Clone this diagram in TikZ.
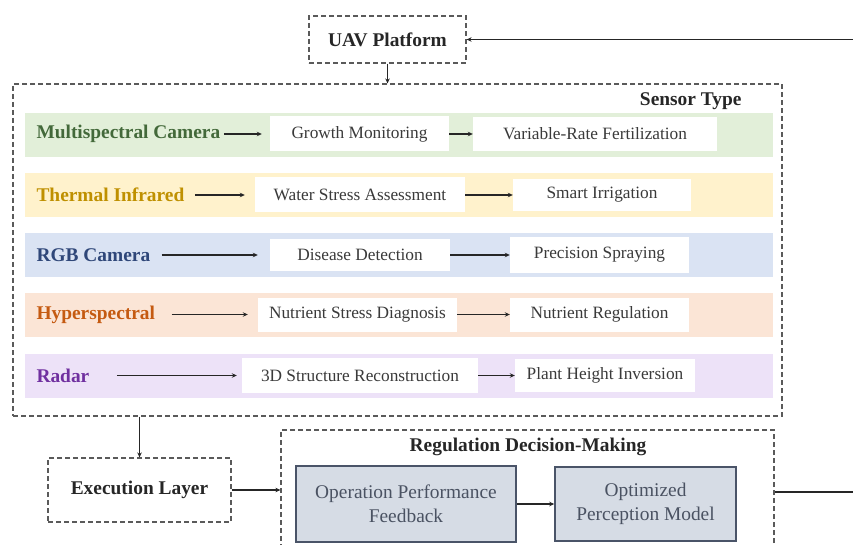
\documentclass[tikz,border=0pt]{standalone}
\usepackage{fontspec}
\setmainfont{Liberation Serif}
\usepackage{xcolor}
\usetikzlibrary{arrows.meta, positioning}
\definecolor{msfill}{HTML}{E2EFD9}
\definecolor{msink}{HTML}{43693A}
\definecolor{thfill}{HTML}{FFF2CC}
\definecolor{think}{HTML}{BF9000}
\definecolor{rgbfill}{HTML}{DAE3F3}
\definecolor{rgbink}{HTML}{2F4779}
\definecolor{hyfill}{HTML}{FBE5D6}
\definecolor{hyink}{HTML}{C55A11}
\definecolor{rafill}{HTML}{EDE2F8}
\definecolor{raink}{HTML}{7030A0}
\definecolor{framegray}{HTML}{5A5A5A}
\definecolor{taskink}{HTML}{3A3A3A}
\definecolor{stagefill}{HTML}{D6DCE5}
\definecolor{stageline}{HTML}{4A5468}
\definecolor{stageink}{HTML}{4A5262}
\tikzset{
    frame/.style = {rectangle, draw=framegray, dash pattern=on 5pt off 3pt, line width=1.2pt, inner sep=0pt},
    title/.style = {font=\fontsize{19.4}{22}\selectfont\bfseries, text=black!85},
    lane/.style = {rectangle, inner sep=0pt, minimum width=748pt, minimum height=44pt},
    sensor/.style = {anchor=west, font=\fontsize{19.4}{22}\selectfont\bfseries},
    task/.style = {rectangle, fill=white, inner sep=0pt, text=taskink, font=\fontsize{17.3}{20}\selectfont},
    stage/.style = {rectangle, draw=stageline, fill=stagefill, line width=1.5pt, inner sep=0pt, align=center,
        text=stageink, font=\fontsize{19.4}{24}\selectfont},
    link/.style = {draw=black!85, line width=1.1pt, -{Stealth[length=5pt, width=4.5pt]}},
}

\begin{document}
\begin{tikzpicture}[x=1pt, y=-1pt]
	\useasboundingbox (0, 0) rectangle (853, 545);

	\node[frame, title, minimum width=157pt, minimum height=47pt] (uav) at (387.5, 39.5) {UAV Platform};
	\node[frame, minimum width=769pt, minimum height=332pt] (sensors) at (397.5, 250) {};
	\node[title, anchor=east] (sensorType) at (745, 101) {Sensor Type};

	\node[lane, fill=msfill] (msLane) at (399, 135) {};
	\node[lane, fill=thfill] (thLane) at (399, 195) {};
	\node[lane, fill=rgbfill] (rgbLane) at (399, 255) {};
	\node[lane, fill=hyfill] (hyLane) at (399, 314.5) {};
	\node[lane, fill=rafill] (raLane) at (399, 375.5) {};

	\node[sensor, text=msink] (ms) at (33, 134) {Multispectral Camera};
	\node[sensor, text=think] (th) at (33, 195) {Thermal Infrared};
	\node[sensor, text=rgbink] (rgb) at (33, 255) {RGB Camera};
	\node[sensor, text=hyink] (hy) at (33, 314.5) {Hyperspectral};
	\node[sensor, text=raink] (ra) at (33, 375.5) {Radar};

	\node[task, minimum width=179pt, minimum height=35pt] (growth) at (359.5, 134) {Growth Monitoring};
	\node[task, minimum width=244pt, minimum height=34pt] (fertilization) at (595, 134) {Variable-Rate Fertilization};
	\node[task, minimum width=210pt, minimum height=35pt] (water) at (360, 195) {Water Stress Assessment};
	\node[task, minimum width=178pt, minimum height=32pt] (irrigation) at (602, 195) {Smart Irrigation};
	\node[task, minimum width=180pt, minimum height=32pt] (disease) at (360, 255) {Disease Detection};
	\node[task, minimum width=179pt, minimum height=36pt] (spraying) at (599.5, 255) {Precision Spraying};
	\node[task, minimum width=199pt, minimum height=34pt] (nutrient) at (357.5, 314.5) {Nutrient Stress Diagnosis};
	\node[task, minimum width=179pt, minimum height=34pt] (regulation) at (599.5, 314.5) {Nutrient Regulation};
	\node[task, minimum width=236pt, minimum height=35pt] (structure) at (360, 375.5) {3D Structure Reconstruction};
	\node[task, minimum width=180pt, minimum height=33pt] (height) at (605, 375.5) {Plant Height Inversion};

	\draw[link, shorten >=8pt] (ms) -- (growth);
	\draw[link] (growth) -- (fertilization);
	\draw[link, shorten <=7pt, shorten >=10pt] (th) -- (water);
	\draw[link] (water) -- (irrigation);
	\draw[link, shorten <=8pt, shorten >=12pt] (rgb) -- (disease);
	\draw[link] (disease) -- (spraying);
	\draw[link, shorten <=13pt, shorten >=10pt] (hy) -- (nutrient);
	\draw[link] (nutrient) -- (regulation);
	\draw[link, shorten <=24pt, shorten >=5pt] (ra) -- (structure);
	\draw[link] (structure) -- (height);

	\node[frame, title, minimum width=183pt, minimum height=64pt] (exec) at (139.5, 490) {Execution Layer};
	\node[frame, minimum width=493pt, minimum height=124pt] (decision) at (527.5, 492) {};
	\node[title] (decisionTitle) at (528, 447) {Regulation Decision-Making};
	\node[stage, minimum width=220pt, minimum height=76pt] (feedback) at (406, 504) {Operation Performance\\Feedback};
	\node[stage, minimum width=181pt, minimum height=74pt] (model) at (645.5, 504) {Optimized\\Perception Model};
	\coordinate (loop) at (880, 0);

	\draw[link] (uav) -- (uav.south |- sensors.north);
	\draw[link] (exec.north |- sensors.south) -- (exec.north);
	\draw[link] (exec.east) -- (exec.east -| decision.west);
	\draw[link] (feedback) -- (model);
	\draw[link] (decision.east) -- (decision.east -| loop) |- (uav.east);
\end{tikzpicture}
\end{document}
